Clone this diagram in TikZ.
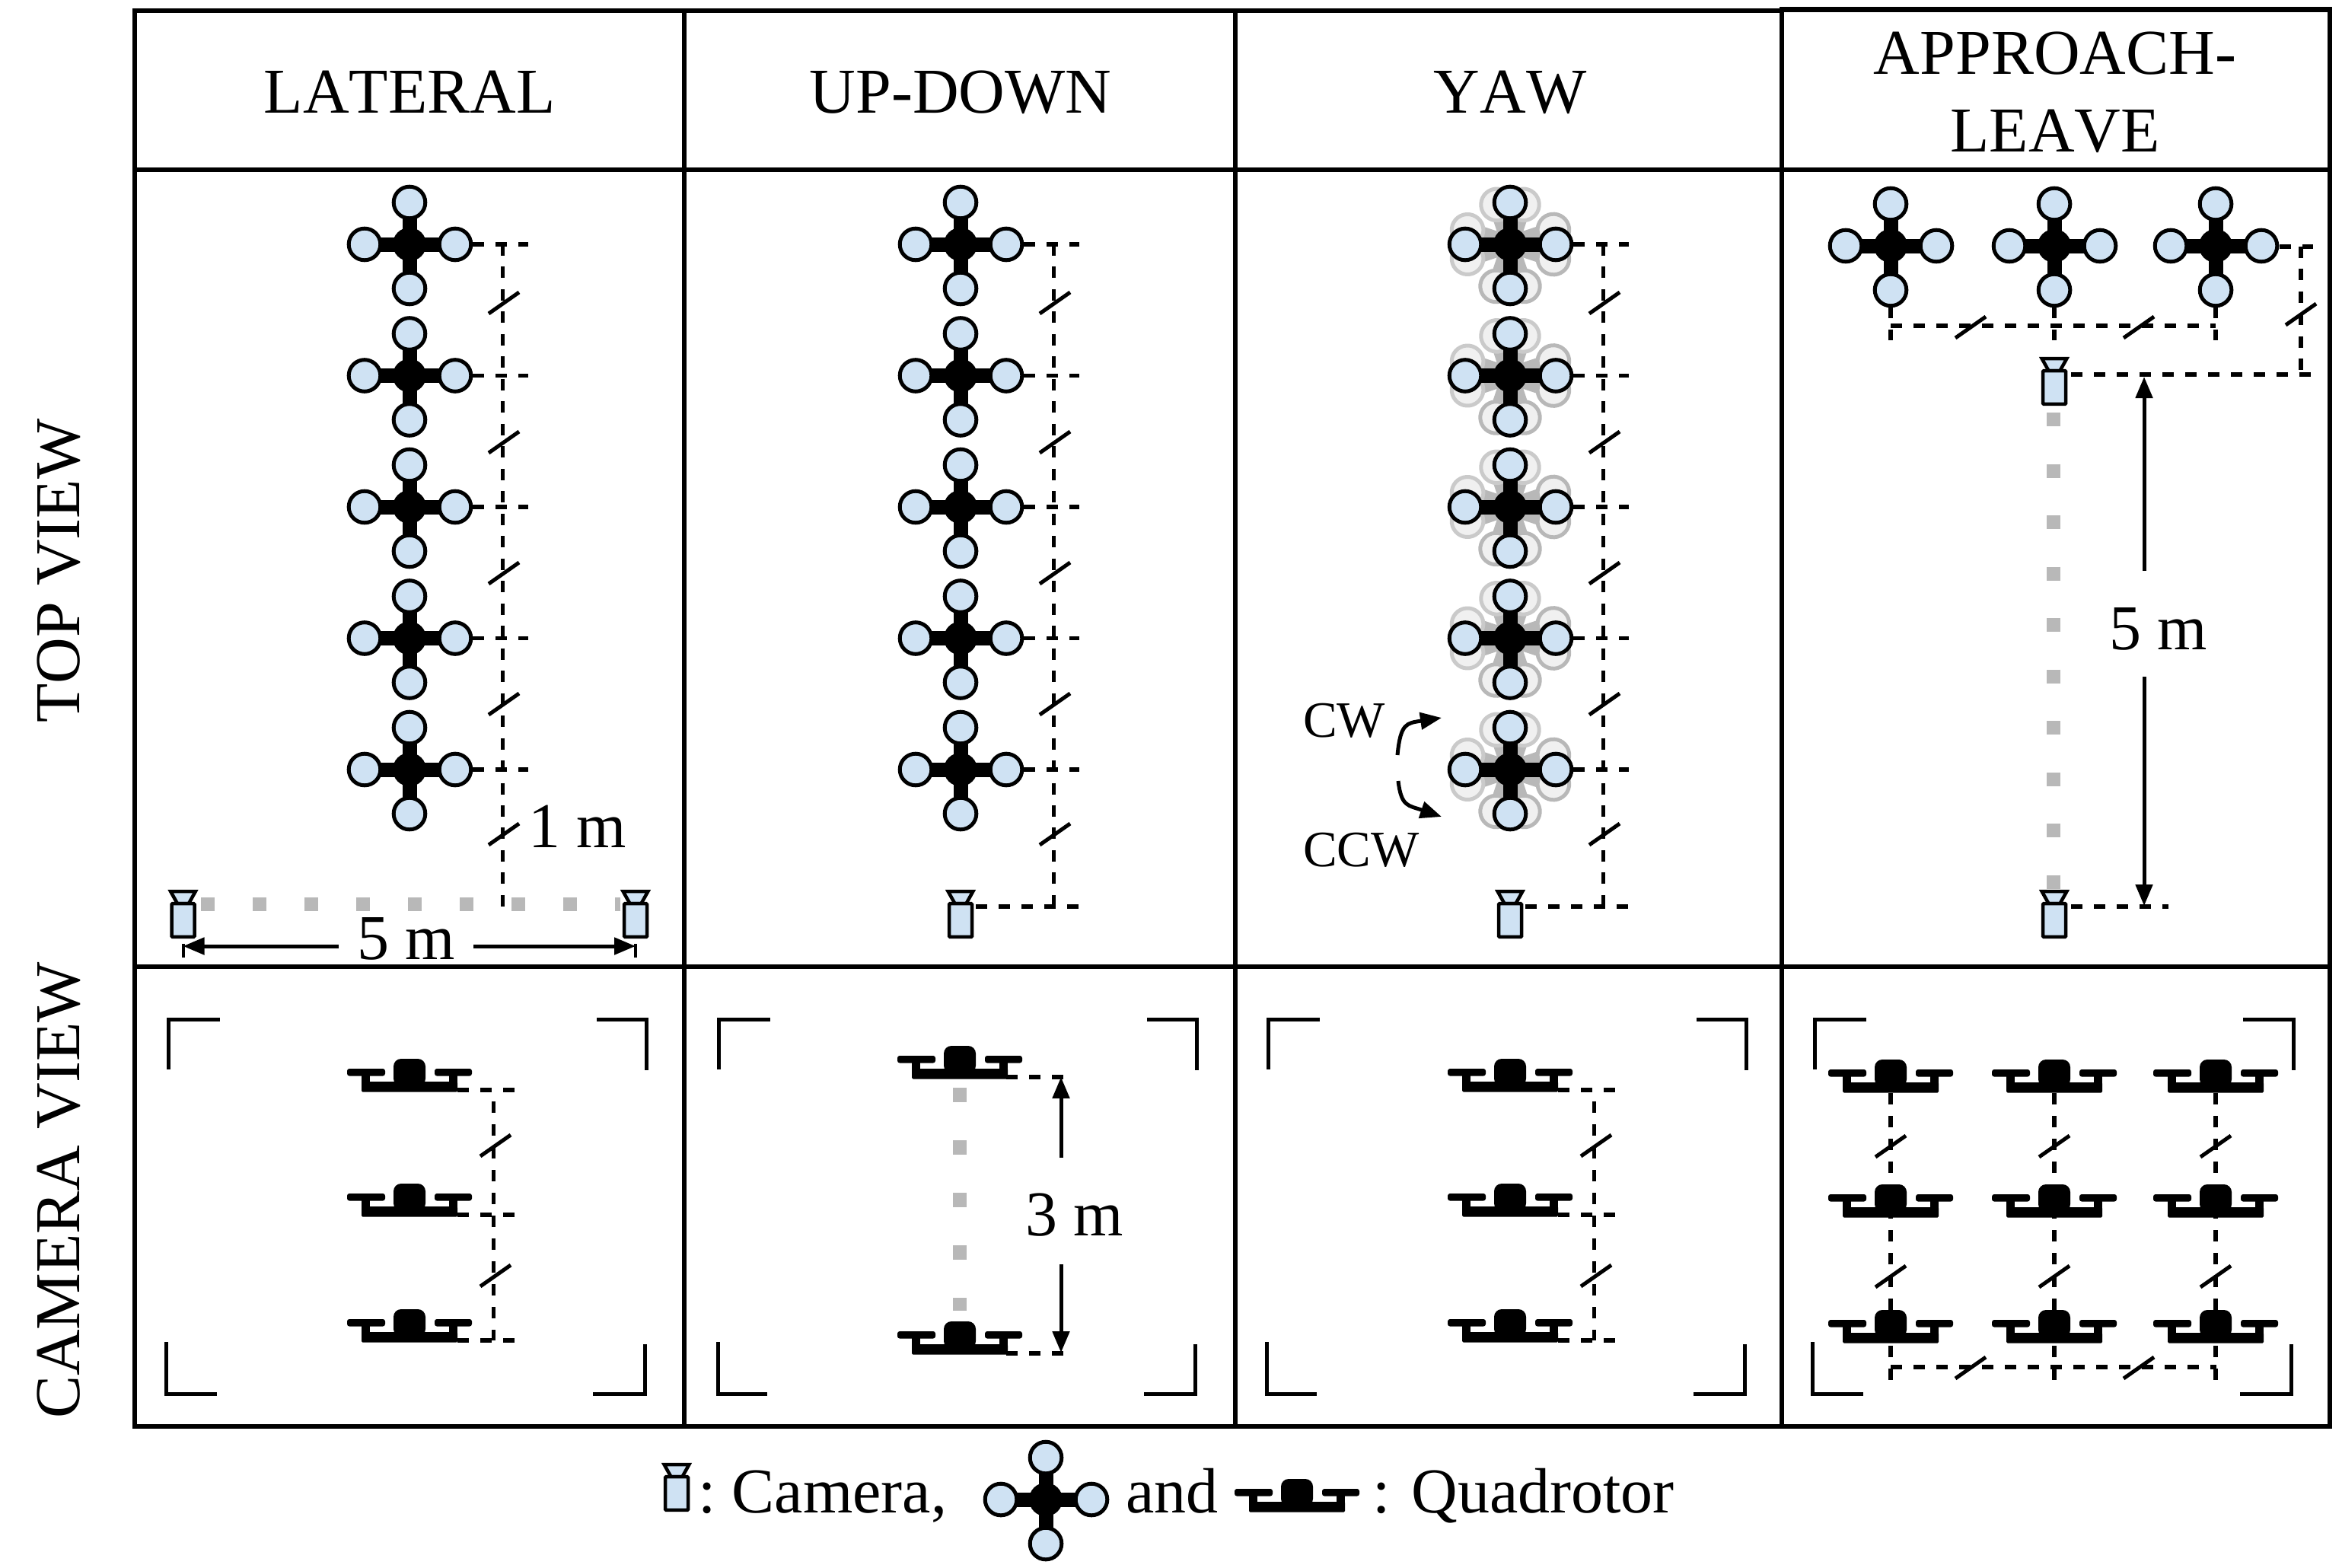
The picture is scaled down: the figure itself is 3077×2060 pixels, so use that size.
\documentclass[tikz,border=0pt]{standalone}
\usepackage{fontspec}
\setmainfont{Liberation Serif}[Kerning=Off]
\usetikzlibrary{arrows.meta}
\definecolor{rotorblue}{HTML}{CFE2F3}
\definecolor{dotgrey}{HTML}{B8B8B8}
\definecolor{ghostfill}{HTML}{F0F0F0}
\definecolor{ghostline}{HTML}{CACACA}
\definecolor{ghostdark}{HTML}{B8B8B8}
\tikzset{
  hcell/.style={line width=6.3pt},
  vcell/.style={line width=5.5pt},
  dimline/.style={line width=5.5pt,dash pattern=on 15pt off 15pt},
  vdimline/.style={line width=5.5pt,dash pattern=on 15pt off 14.48pt},
  frameline/.style={line width=5pt,line join=miter},
  slashline/.style={line width=5pt},
  dotline/.style={line width=18pt,color=dotgrey,dash pattern=on 18pt off 50pt},
  arrowline/.style={line width=5pt,-{Triangle[length=28pt,width=22pt]}},
  bigtext/.style={font=\fontsize{84}{84}\selectfont,inner sep=0pt,anchor=base},
  smalltext/.style={font=\fontsize{67}{67}\selectfont,inner sep=0pt,anchor=base west},
  topq/.pic={
    \coordinate (-c) at (0,0);
    \fill[black] (-9.5,-38) rectangle (9.5,38);
    \fill[black] (-40,-9.5) rectangle (40,9.5);
    \fill[black] (0,0) circle (22);
    \foreach \ax/\ay in {0/-55,0/58,-59/0,60/0}
      \draw[line width=5pt,fill=rotorblue] (\ax,\ay) circle (20.8);
  },
  ghostq/.pic={
    \fill[dotgrey] (-11,-38) rectangle (11,38);
    \fill[dotgrey] (-40,-11) rectangle (40,11);
    \foreach \ax/\ay/\col in {0/-55/ghostline,-59/0/ghostline,0/58/ghostdark,60/0/ghostdark}
      \draw[line width=5pt,draw=\col,fill=ghostfill] (\ax,\ay) circle (20.8);
  },
  sideq/.pic={
    \coordinate (-c) at (0,0);
    \fill[black,rounded corners=3pt] (-82,-5) rectangle (-32,4.5);
    \fill[black,rounded corners=3pt] (33,-5) rectangle (82,4.5);
    \fill[black] (-63,3) rectangle (-52,14);
    \fill[black] (52,3) rectangle (63,14);
    \fill[black,rounded corners=1.5pt] (-63,12) rectangle (63,25.5);
    \fill[black,rounded corners=10pt] (-21,18) -- (-21,-18) -- (21,-18) -- (21,18) -- cycle;
  },
  camq/.pic={
    \coordinate (-c) at (0,0);
    \draw[line width=4.5pt,fill=rotorblue,line join=miter] (-16.3,-13.8) -- (16.3,-13.8) -- (7.5,2) -- (-7.5,2) -- cycle;
    \draw[line width=4.5pt,fill=rotorblue,rounded corners=1pt] (-15,2.2) rectangle (15,45.8);
  },
  slash/.pic={\draw[slashline] (-20,14) -- (20,-14);},
}
\begin{document}
\begin{tikzpicture}[x=1pt,y=-1pt]
\useasboundingbox (0,0) rectangle (3077,2060);
\fill[white] (0,0) rectangle (3077,2060);

% table
\draw[hcell] (174,14) -- (2341,14);
\draw[hcell] (2338,12.5) -- (3064,12.5);
\draw[hcell] (174,223) -- (3064,223);
\draw[hcell] (174,1270) -- (3064,1270);
\draw[hcell] (174,1874) -- (3064,1874);
\foreach \vx in {177,899,1623,2341,3061} \draw[vcell] (\vx,12) -- (\vx,1876);

% headers
\node[bigtext] (hLateral) at (538,149) {LATERAL};
\node[bigtext] (hUpDown) at (1262,149) {UP-DOWN};
\node[bigtext] (hYaw) at (1984,149) {YAW};
\node[bigtext] (hApproachA) at (2700,98) {APPROACH-};
\node[bigtext] (hApproachB) at (2700,200) {LEAVE};
\node[bigtext,rotate=90] (hTop) at (104,750) {TOP VIEW};
\node[bigtext,rotate=90] (hCam) at (104,1564) {CAMERA VIEW};

% named positions
\foreach \c/\cx in {1/538,2/1262,3/1984}{
  \foreach \r/\ry in {1/321,2/493.5,3/666,4/838.5,5/1011}
    \coordinate (t\c r\r) at (\cx,\ry);
}
\foreach \c/\cx in {1/538,3/1984}{
  \foreach \r/\ry in {1/1409,2/1573,3/1738}
    \coordinate (s\c r\r) at (\cx,\ry);
}
\foreach \c/\cx in {1/2484,2/2699,3/2911}{
  \foreach \r/\ry in {1/1410,2/1574,3/1739}
    \coordinate (a\c r\r) at (\cx,\ry);
  \coordinate (b\c) at (\cx,323);
}

% top-view dimension lines, columns 1-3
\foreach \c in {1,2,3}{
  \draw[vdimline] (t\c r1) ++(122.5,0) -- ++(0,872);
  \foreach \r in {1,2,3,4,5}
    \draw[dimline] (t\c r\r) ++(83,0) -- ++(73,0);
  \foreach \sy in {77,260,432,604,775}
    \pic at ([shift={(124pt,-\sy pt)}]t\c r1) {slash};
}
\draw[dimline] (1262,1191) ++(20,0) -- ++(136,0);
\draw[dimline] (1984,1191) ++(20,0) -- ++(136,0);

% lateral baseline
\coordinate (camL) at (240.5,1185);
\coordinate (camR) at (835,1185);
\draw[dotline] (camL) ++(23.5,3) -- ++(551,0);
\draw[arrowline] (445,1243) -- (240.5,1243);
\draw[arrowline] (622,1243) -- (835,1243);
\draw[line width=4pt] (240.5,1240) -- (240.5,1258);
\draw[line width=4pt] (835,1240) -- (835,1258);
\node[bigtext] (lbl5a) at (534,1260) {5 m};
\node[bigtext,anchor=base west] (lbl1) at (694,1113) {1 m};

% yaw ghosts and arrows
\foreach \r in {1,2,3,4,5}{
  \pic[rotate=18.5] at (t3r\r) {ghostq};
  \pic[rotate=-18.5] at (t3r\r) {ghostq};
}
\draw[arrowline] (1836,992) .. controls (1840,950) and (1848,950) .. (1894,943);
\draw[arrowline] (1837,1026) .. controls (1841,1060) and (1850,1058) .. (1894,1073);
\node[smalltext] (lblCW) at (1712,968) {CW};
\node[smalltext] (lblCCW) at (1712,1138) {CCW};

% approach top view
\foreach \c in {1,2,3}
  \draw[dimline] (b\c) ++(0,80) -- ++(0,44);
\draw[dimline] (b1) ++(0,105) -- ++(427,0);
\draw[vdimline] (b3) ++(112,1) -- ++(0,168);
\draw[dimline] (b3) ++(84,1) -- ++(44,0);
\draw[dimline] (2721,492) -- (3038,492);
\pic at (2589,430) {slash};
\pic at (2810,430) {slash};
\pic at (3023,413) {slash};
\draw[dotline,dash pattern=on 18pt off 49.5pt] (2698,542) -- (2698,1170);
\draw[arrowline] (2817,750) -- (2817,495);
\draw[arrowline] (2817,889) -- (2817,1190);
\draw[dimline] (2721,1191) -- (2849,1191);
\node[bigtext] (lbl5b) at (2836,853) {5 m};

% drones and cameras, top view
\foreach \c in {1,2,3}
  \foreach \r in {1,2,3,4,5}
    \pic (qt\c r\r) at (t\c r\r) {topq};
\foreach \c in {1,2,3}
  \pic (qb\c) at (b\c) {topq};
\pic (cam1) at (camL) {camq};
\pic (cam2) at (camR) {camq};
\pic (cam3) at (1262,1185) {camq};
\pic (cam4) at (1984,1185) {camq};
\pic (cam5) at (2699,485) {camq};
\pic (cam6) at (2699,1185) {camq};

% camera-view frames
\foreach \tl/\tle/\tr/\bl/\ble/\br/\trx/\brx in {
   221/289/784/218.6/285/779/849.4/847,
   944/1012/1507/943/1008/1503/1572.6/1570,
   1666/1734/2229/1664/1730/2225/2294/2292,
   2384/2452/2947/2381/2448/2943/3013/3010}{
  \draw[frameline] (\tl,1405) -- (\tl,1339) -- (\tle,1339);
  \draw[frameline] (\tr,1339) -- (\trx,1339) -- (\trx,1406);
  \draw[frameline] (\bl,1763) -- (\bl,1831) -- (\ble,1831);
  \draw[frameline] (\br,1831) -- (\brx,1831) -- (\brx,1766);
}

% lateral & yaw camera view dims
\foreach \c in {1,3}{
  \foreach \r in {1,2,3}
    \draw[dimline] (s\c r\r) ++(63,23) -- ++(76,0);
  \draw[dimline,dash phase=15pt] (s\c r1) ++(110.5,23) -- ++(0,329);
  \pic at ([shift={(113pt,-96pt)}]s\c r1) {slash};
  \pic at ([shift={(113pt,-267pt)}]s\c r1) {slash};
  \foreach \r in {1,2,3}
    \pic (qs\c r\r) at (s\c r\r) {sideq};
}

% up-down camera view
\coordinate (ud1) at (1261,1392);
\coordinate (ud2) at (1261,1754);
\draw[dotline,dash pattern=on 18.5pt off 50.5pt] (1261,1429) -- (1261,1722);
\draw[dimline] (ud1) ++(61,23) -- ++(76,0);
\draw[dimline] (ud2) ++(61,24) -- ++(76,0);
\draw[arrowline] (1394,1521) -- (1394,1415);
\draw[arrowline] (1394,1661) -- (1394,1777);
\pic (qu1) at (ud1) {sideq};
\pic (qu2) at (ud2) {sideq};
\node[bigtext] (lbl3) at (1412,1623) {3 m};

% approach camera view
\foreach \c in {1,2,3}{
  \draw[dimline] (a\c r1) ++(0,26) -- (a\c r3);
  \draw[dimline] (a\c r3) ++(0,29) -- ++(0,50);
  \pic at ([shift={(0pt,-96pt)}]a\c r1) {slash};
  \pic at ([shift={(0pt,-267pt)}]a\c r1) {slash};
  \foreach \r in {1,2,3}
    \pic (qa\c r\r) at (a\c r\r) {sideq};
}
\draw[dimline] (2484,1796) -- (2912,1796);
\pic at (2589,1797) {slash};
\pic at (2810,1797) {slash};

% legend
\pic (legcam) at (889,1938) {camq};
\node[bigtext,anchor=base west] (legA) at (917,1987) {\spaceskip=0.17em : Camera,};
\pic (legtop) at (1374,1970) {topq};
\node[bigtext,anchor=base west] (legB) at (1479,1987) {and};
\pic (legside) at (1704,1961) {sideq};
\node[bigtext,anchor=base west] (legC) at (1803,1987) {: Quadrotor};
\end{tikzpicture}
\end{document}
